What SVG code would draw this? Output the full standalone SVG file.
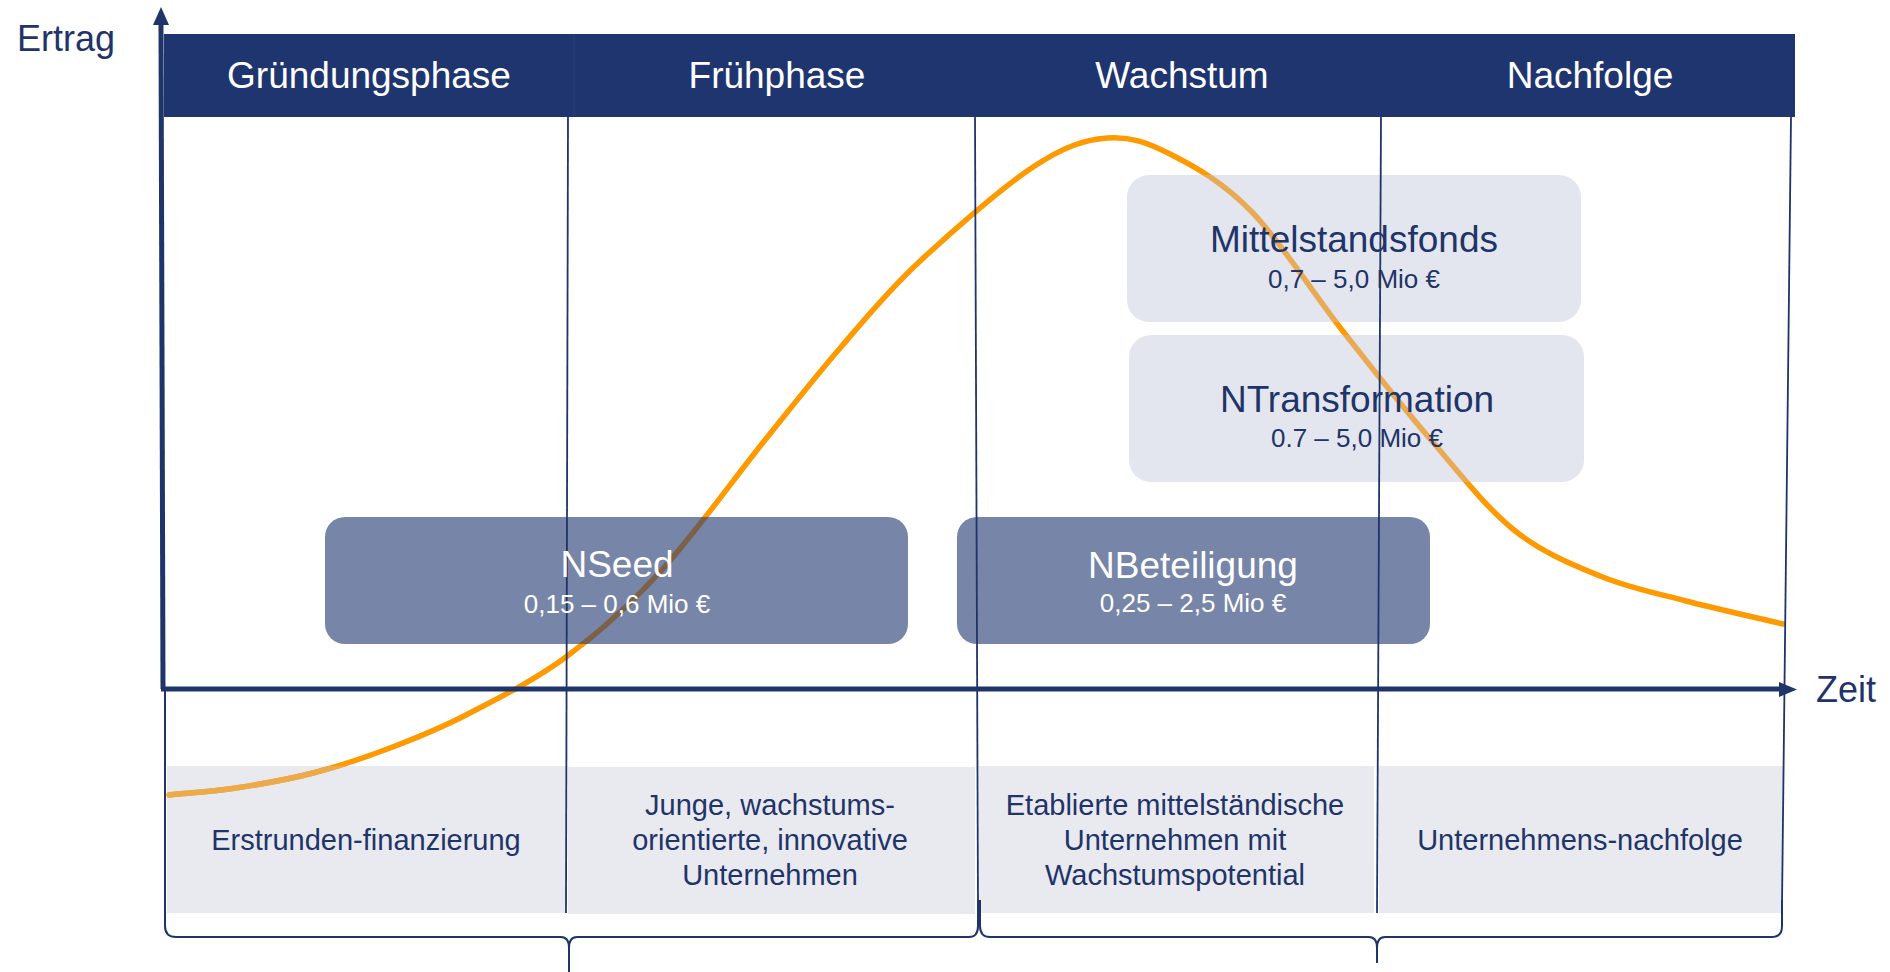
<svg xmlns="http://www.w3.org/2000/svg" width="1890" height="972" viewBox="0 0 1890 972">
<style>
text{font-family:"Liberation Sans",Arial,Helvetica,sans-serif}
.hdr{fill:#FFFFFF;font-size:37px;text-anchor:middle}
.ttl{font-size:37px;text-anchor:middle}
.sub{font-size:26px;text-anchor:middle}
.w{fill:#FFFFFF}
.n{fill:#1F3468}
.cell{fill:#E9EAF0}
.celltxt{fill:#1F3468;font-size:29px;text-anchor:middle}
.dark{fill:#7785A8}
.light{fill:#E3E6EE}
.div{stroke:#1F3468;stroke-width:1.8;fill:none}
.brace{stroke:#1F3468;stroke-width:2;fill:none}
.axis{stroke:#1F3468;stroke-width:5;fill:none}
.curve{fill:none;stroke-width:5.5;stroke-linecap:round;stroke-linejoin:round}
</style>
<defs>
<path id="curvePath" d="M169,795 C191.3,792.7 212,791.7 236,788 C260,784.3 287.3,779.7 313,773 C338.7,766.3 364.5,757.7 390,748 C415.5,738.3 436.7,730.2 466,715 C495.3,699.8 533.7,680.8 566,657 C598.3,633.2 626.8,608.2 660,572 C693.2,535.8 734.8,477.5 765,440 C795.2,402.5 815.5,376.5 841,347 C866.5,317.5 886,293 918,263 C950,233 1001.5,187.8 1033,167 C1064.5,146.2 1083.8,140 1107,138 C1130.2,136 1147.8,142.7 1172,155 C1196.2,167.3 1223.7,182.8 1252,212 C1280.3,241.2 1312.2,292 1342,330 C1371.8,368 1402.3,406.7 1431,440 C1459.7,473.3 1485.8,507.3 1514,530 C1542.2,552.7 1571.3,564.2 1600,576 C1628.7,587.8 1655.5,593 1686,601 C1716.5,609 1750.7,616.3 1783,624"/>
<clipPath id="clipSeed"><rect x="325" y="517" width="583" height="127" rx="20"/></clipPath>
<clipPath id="clipLight"><rect x="1127" y="175" width="454" height="147" rx="22"/><rect x="1129" y="335" width="455" height="147" rx="22"/></clipPath>
<clipPath id="clipCell"><rect x="167" y="766" width="399" height="147"/></clipPath>
</defs>
<rect x="0" y="0" width="1890" height="972" fill="#FFFFFF"/>

<g id="cells">
<rect class="cell" x="167" y="766" width="399" height="147"/>
<rect class="cell" x="568" y="767" width="407" height="147"/>
<rect class="cell" x="979" y="766" width="395" height="147"/>
<rect class="cell" x="1379" y="766" width="404" height="147"/>
</g>

<g id="header">
<rect x="164" y="34" width="1631" height="83" fill="#1F356F"/>
<line x1="574" y1="34" x2="574" y2="117" stroke="#2B4179" stroke-width="1"/>
</g>

<g id="curve">
<use href="#curvePath" class="curve" stroke="#FF9900"/>
</g>

<g id="node-nseed">
<rect class="dark" x="325" y="517" width="583" height="127" rx="20"/>
</g>
<g id="node-nbeteiligung">
<rect class="dark" x="957" y="517" width="473" height="127" rx="20"/>
</g>
<g id="node-mittelstandsfonds">
<rect class="light" x="1127" y="175" width="454" height="147" rx="22"/>
</g>
<g id="node-ntransformation">
<rect class="light" x="1129" y="335" width="455" height="147" rx="22"/>
</g>

<g id="curve-overlays">
<use href="#curvePath" class="curve" stroke="#7B6246" clip-path="url(#clipSeed)"/>
<use href="#curvePath" class="curve" stroke="#E8AA55" clip-path="url(#clipLight)"/>
<use href="#curvePath" class="curve" stroke="#EBAA4C" clip-path="url(#clipCell)"/>
</g>

<g id="connectors">
<line class="div" x1="568" y1="117" x2="566" y2="913"/>
<line class="div" x1="975" y1="117" x2="978" y2="905"/>
<line class="div" x1="1381" y1="117" x2="1377" y2="913"/>
<line class="div" x1="1791" y1="117" x2="1782" y2="905"/>
<path class="brace" d="M165,689 L165,926 Q165,937 176,937 L561,937 Q569,937 569,948 L569,972 M569,948 Q569,937 577,937 L969,937 Q978,937 978,926 L978,900"/>
<path class="brace" d="M980,900 L980,926 Q980,937 990,937 L1369,937 Q1377,937 1377,948 L1377,963 M1377,948 Q1377,937 1385,937 L1772,937 Q1782,937 1782,926 L1782,900"/>
<line class="axis" x1="161" y1="22" x2="163" y2="689"/>
<polygon points="161,7 153,25 169,25" fill="#1F3468"/>
<line class="axis" x1="161" y1="689" x2="1782" y2="689"/>
<polygon points="1797,689.5 1779,682 1779,697" fill="#1F3468"/>
</g>

<g id="axis-labels">
<text class="n" x="17" y="51" font-size="36">Ertrag</text>
<text class="n" x="1816" y="702" font-size="36">Zeit</text>
</g>

<g id="phase-gruendung"><text class="hdr" x="369" y="88">Gründungsphase</text></g>
<g id="phase-frueh"><text class="hdr" x="777" y="88">Frühphase</text></g>
<g id="phase-wachstum"><text class="hdr" x="1182" y="88">Wachstum</text></g>
<g id="phase-nachfolge"><text class="hdr" x="1590" y="88">Nachfolge</text></g>

<g id="label-nseed">
<text class="ttl w" x="617" y="577">NSeed</text>
<text class="sub w" x="617" y="613">0,15 – 0,6 Mio €</text>
</g>
<g id="label-nbeteiligung">
<text class="ttl w" x="1193" y="578">NBeteiligung</text>
<text class="sub w" x="1193" y="612">0,25 – 2,5 Mio €</text>
</g>
<g id="label-mittelstandsfonds">
<text class="ttl n" x="1354" y="252">Mittelstandsfonds</text>
<text class="sub n" x="1354" y="288">0,7 – 5,0 Mio €</text>
</g>
<g id="label-ntransformation">
<text class="ttl n" x="1357" y="412">NTransformation</text>
<text class="sub n" x="1357" y="447">0.7 – 5,0 Mio €</text>
</g>

<g id="cell-texts">
<text class="celltxt" x="366" y="850">Erstrunden-finanzierung</text>
<text class="celltxt" x="770" y="815">Junge, wachstums-</text>
<text class="celltxt" x="770" y="850">orientierte, innovative</text>
<text class="celltxt" x="770" y="885">Unternehmen</text>
<text class="celltxt" x="1175" y="815">Etablierte mittelständische</text>
<text class="celltxt" x="1175" y="850">Unternehmen mit</text>
<text class="celltxt" x="1175" y="885">Wachstumspotential</text>
<text class="celltxt" x="1580" y="850">Unternehmens-nachfolge</text>
</g>
</svg>
